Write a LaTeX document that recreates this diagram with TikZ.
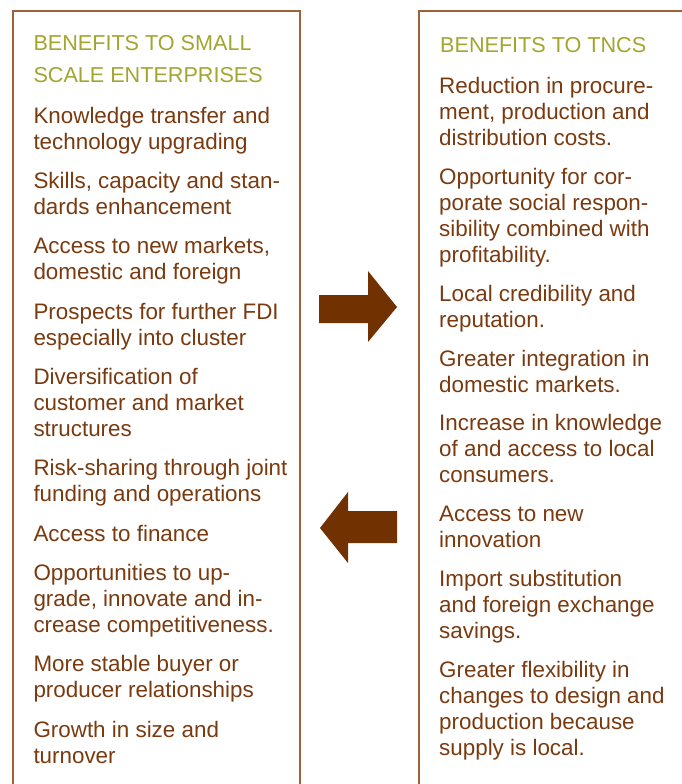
\documentclass[tikz,border=0pt]{standalone}
\usepackage{fontspec}
\setmainfont{Liberation Sans}
\definecolor{olivehead}{HTML}{A2A52E}
\definecolor{txtbrown}{HTML}{7A3A0F}
\definecolor{arrowbrown}{HTML}{723100}
\definecolor{boxline}{HTML}{A0603A}
\tikzset{
  itm/.style={anchor=base west, inner sep=0pt, text=txtbrown, font=\fontsize{22.4}{26}\selectfont},
  hdr/.style={anchor=base west, inner sep=0pt, text=olivehead, font=\fontsize{21.6}{31.7}\selectfont},
  panel/.style={draw=boxline, line width=1.3pt},
  bigarrow/.style={fill=arrowbrown, draw=none}
}
\newcommand{\lns}[1]{\parbox[t]{330pt}{\raggedright #1}}
\begin{document}
\begin{tikzpicture}[x=1pt,y=-1pt]
\useasboundingbox (0,0) rectangle (681,784);
% panels
\draw[panel] (13,790) -- (13,11) -- (300,11) -- (300,790);
\draw[panel] (419,790) -- (419,11) -- (690,11);
% left column
\node[hdr] (lh) at (33.3,51) {\lns{BENEFITS TO SMALL\\SCALE ENTERPRISES}};
\node[itm] (l1) at (33.3,123.3) {\lns{Knowledge transfer and\\technology upgrading}};
\node[itm] (l2) at (33.3,188.6) {\lns{Skills, capacity and stan-\\dards enhancement}};
\node[itm] (l3) at (33.3,253.9) {\lns{Access to new markets,\\domestic and foreign}};
\node[itm] (l4) at (33.3,319.2) {\lns{Prospects for further FDI\\especially into cluster}};
\node[itm] (l5) at (33.3,384.5) {\lns{Diversification of\\customer and market\\structures}};
\node[itm] (l6) at (33.3,475.8) {\lns{Risk-sharing through joint\\funding and operations}};
\node[itm] (l7) at (33.3,541.1) {\lns{Access to finance}};
\node[itm] (l8) at (33.3,580.4) {\lns{Opportunities to up-\\grade, innovate and in-\\crease competitiveness.}};
\node[itm] (l9) at (33.3,671.7) {\lns{More stable buyer or\\producer relationships}};
\node[itm] (l10) at (33.3,737.0) {\lns{Growth in size and\\turnover}};
% right column
\node[hdr] (rh) at (440,52.3) {\lns{BENEFITS TO TNCS}};
\node[itm] (r1) at (439,93.3) {\lns{Reduction in procure-\\ment, production and\\distribution costs.}};
\node[itm] (r2) at (439,184.2) {\lns{Opportunity for cor-\\porate social respon-\\sibility combined with\\profitability.}};
\node[itm] (r3) at (439,301.1) {\lns{Local credibility and\\reputation.}};
\node[itm] (r4) at (439,366.0) {\lns{Greater integration in\\domestic markets.}};
\node[itm] (r5) at (439,430.9) {\lns{Increase in knowledge\\of and access to local\\consumers.}};
\node[itm] (r6) at (439,521.8) {\lns{Access to new\\innovation}};
\node[itm] (r7) at (439,586.7) {\lns{Import substitution\\and foreign exchange\\savings.}};
\node[itm] (r8) at (439,677.6) {\lns{Greater flexibility in\\changes to design and\\production because\\supply is local.}};
% arrows
\fill[bigarrow] (319,295) -- (368,295) -- (368,271) -- (397,307) -- (368,342) -- (368,323) -- (319,323) -- cycle;
\fill[bigarrow] (397,511) -- (348,511) -- (348,492) -- (320,528) -- (348,563) -- (348,543) -- (397,543) -- cycle;
\end{tikzpicture}
\end{document}
